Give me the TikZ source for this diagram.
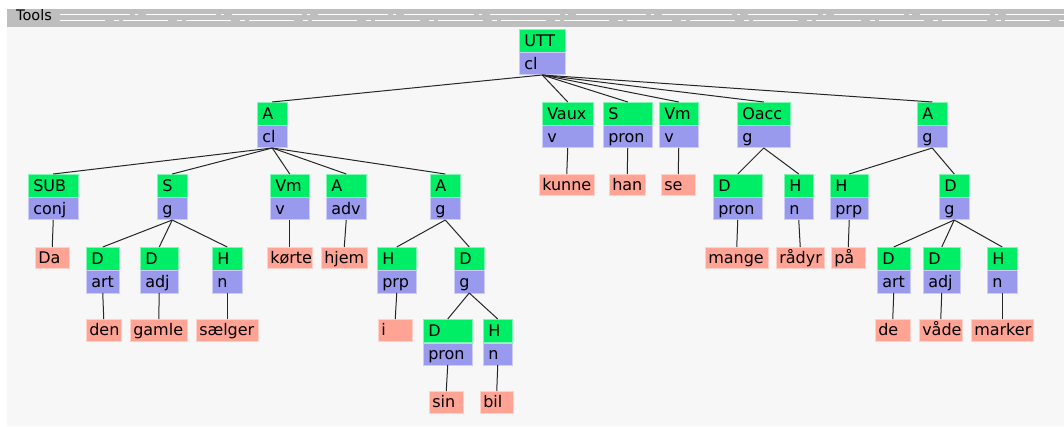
\documentclass[tikz,border=0pt]{standalone}
\usepackage{fontspec}
\setmainfont{DejaVu Sans}
\usetikzlibrary{positioning}
\definecolor{fncol}{RGB}{0,238,102}
\definecolor{catcol}{RGB}{153,153,238}
\definecolor{wdcol}{RGB}{255,163,148}
\definecolor{bgcol}{RGB}{247,247,247}
\definecolor{barcol}{RGB}{190,190,190}

\begin{document}
\begin{tikzpicture}[x=1pt,y=-1pt,
	box/.style={anchor=north west, inner xsep=5pt, inner ysep=0pt, align=left,
		text height=11.7pt, text depth=0pt, line width=0.5pt, font=\fontsize{16}{19}\selectfont},
	fn/.style={box, fill=fncol, draw=fncol!50!white, minimum height=23pt},
	cat/.style={box, fill=catcol, draw=catcol!50!white, minimum height=22pt},
	wd/.style={box, inner xsep=3pt, fill=wdcol, draw=wdcol!50!white, minimum height=21.5pt},
	every edge/.style={draw, line width=1pt, black!85}]
	\useasboundingbox (0,0) rectangle (1064,427);
	\fill[bgcol] (7,27) rectangle (1064,426);
	\fill[barcol] (7,9) rectangle (1064,27);
	\draw[white, line width=0.9pt, dash pattern=on 70pt off 5pt on 3pt off 8pt] (60,14) -- (1064,14);
	\draw[white, line width=0.9pt, dash pattern=on 45pt off 9pt on 5pt off 4pt] (60,20.5) -- (1064,20.5);
	\node[anchor=base west, inner sep=0pt, font=\fontsize{14.5}{16}\selectfont] (tools) at (16,21) {Tools};

	% clause level
	\node[fn, text width=36pt] (utt) at (519,29) {UTT};
	\node[cat, text width=36pt, below=0pt of utt.south west, anchor=north west] (uttc) {cl};

	\node[fn, text width=20pt] (a1) at (257,102) {A};
	\node[cat, text width=20pt, below=0pt of a1.south west, anchor=north west] (a1c) {cl};
	\node[fn, text width=41pt] (vaux) at (542,102) {Vaux};
	\node[cat, text width=41pt, below=0pt of vaux.south west, anchor=north west] (vauxc) {v};
	\node[fn, text width=39pt] (s2) at (603,102) {S};
	\node[cat, text width=39pt, below=0pt of s2.south west, anchor=north west] (s2c) {pron};
	\node[fn, text width=29pt] (vm2) at (659,102) {Vm};
	\node[cat, text width=29pt, below=0pt of vm2.south west, anchor=north west] (vm2c) {v};
	\node[fn, text width=43pt] (oacc) at (737,102) {Oacc};
	\node[cat, text width=43pt, below=0pt of oacc.south west, anchor=north west] (oaccc) {g};
	\node[fn, text width=20pt] (a3) at (917,102) {A};
	\node[cat, text width=20pt, below=0pt of a3.south west, anchor=north west] (a3c) {g};

	% subordinate clause
	\node[fn, text width=40pt] (sub) at (28,174) {SUB};
	\node[cat, text width=40pt, below=0pt of sub.south west, anchor=north west] (subc) {conj};
	\node[fn, text width=20pt] (s1) at (157,174) {S};
	\node[cat, text width=20pt, below=0pt of s1.south west, anchor=north west] (s1c) {g};
	\node[fn, text width=29pt] (vm1) at (270,174) {Vm};
	\node[cat, text width=29pt, below=0pt of vm1.south west, anchor=north west] (vm1c) {v};
	\node[fn, text width=30pt] (aadv) at (326,174) {A};
	\node[cat, text width=30pt, below=0pt of aadv.south west, anchor=north west] (aadvc) {adv};
	\node[fn, text width=20pt] (a2) at (430,174) {A};
	\node[cat, text width=20pt, below=0pt of a2.south west, anchor=north west] (a2c) {g};

	\node[fn, text width=23pt] (d1) at (86,247) {D};
	\node[cat, text width=23pt, below=0pt of d1.south west, anchor=north west] (d1c) {art};
	\node[fn, text width=28pt] (d2) at (140,247) {D};
	\node[cat, text width=28pt, below=0pt of d2.south west, anchor=north west] (d2c) {adj};
	\node[fn, text width=20pt] (h1) at (212,247) {H};
	\node[cat, text width=20pt, below=0pt of h1.south west, anchor=north west] (h1c) {n};
	\node[fn, text width=29pt] (hprp1) at (377,247) {H};
	\node[cat, text width=29pt, below=0pt of hprp1.south west, anchor=north west] (hprp1c) {prp};
	\node[fn, text width=20pt] (dg1) at (454,247) {D};
	\node[cat, text width=20pt, below=0pt of dg1.south west, anchor=north west] (dg1c) {g};
	\node[fn, text width=39pt] (dpron1) at (423,319) {D};
	\node[cat, text width=39pt, below=0pt of dpron1.south west, anchor=north west] (dpron1c) {pron};
	\node[fn, text width=19pt] (hn1) at (483,319) {H};
	\node[cat, text width=19pt, below=0pt of hn1.south west, anchor=north west] (hn1c) {n};

	% object and adverbial
	\node[fn, text width=39pt] (dpron2) at (713,174) {D};
	\node[cat, text width=39pt, below=0pt of dpron2.south west, anchor=north west] (dpron2c) {pron};
	\node[fn, text width=19pt] (hn2) at (784,174) {H};
	\node[cat, text width=19pt, below=0pt of hn2.south west, anchor=north west] (hn2c) {n};
	\node[fn, text width=28pt] (hprp2) at (830,174) {H};
	\node[cat, text width=28pt, below=0pt of hprp2.south west, anchor=north west] (hprp2c) {prp};
	\node[fn, text width=20pt] (dg2) at (939,174) {D};
	\node[cat, text width=20pt, below=0pt of dg2.south west, anchor=north west] (dg2c) {g};
	\node[fn, text width=23pt] (dart2) at (877,247) {D};
	\node[cat, text width=23pt, below=0pt of dart2.south west, anchor=north west] (dart2c) {art};
	\node[fn, text width=27pt] (dadj2) at (923,247) {D};
	\node[cat, text width=27pt, below=0pt of dadj2.south west, anchor=north west] (dadj2c) {adj};
	\node[fn, text width=20pt] (hn3) at (987,247) {H};
	\node[cat, text width=20pt, below=0pt of hn3.south west, anchor=north west] (hn3c) {n};

	% words
	\node[wd, text width=28pt] (da) at (35,247) {Da};
	\node[wd, text width=29pt] (den) at (86,319) {den};
	\node[wd, text width=51pt] (gamle) at (130,319) {gamle};
	\node[wd, text width=56pt] (saelger) at (196,319) {sælger};
	\node[wd, text width=39pt] (korte) at (267,247) {kørte};
	\node[wd, text width=40pt] (hjem) at (321,247) {hjem};
	\node[wd, text width=28pt] (i) at (378,319) {i};
	\node[wd, text width=28pt] (sin) at (429,391) {sin};
	\node[wd, text width=27pt] (bil) at (480,391) {bil};
	\node[wd, text width=49pt] (kunne) at (539,174) {kunne};
	\node[wd, text width=30pt] (han) at (609,174) {han};
	\node[wd, text width=28pt] (se) at (661,174) {se};
	\node[wd, text width=57pt] (mange) at (705,247) {mange};
	\node[wd, text width=42pt] (radyr) at (776,247) {rådyr};
	\node[wd, text width=28pt] (paa) at (831,247) {på};
	\node[wd, text width=29pt] (de) at (875,319) {de};
	\node[wd, text width=37pt] (vaade) at (919,319) {våde};
	\node[wd, text width=56pt] (marker) at (971,319) {marker};

	\path[-] (uttc.south) edge (a1.north);
	\path[-] (uttc.south) edge (vaux.north);
	\path[-] (uttc.south) edge (s2.north);
	\path[-] (uttc.south) edge (vm2.north);
	\path[-] (uttc.south) edge (oacc.north);
	\path[-] (uttc.south) edge (a3.north);
	\path[-] (a1c.south) edge (sub.north);
	\path[-] (a1c.south) edge (s1.north);
	\path[-] (a1c.south) edge (vm1.north);
	\path[-] (a1c.south) edge (aadv.north);
	\path[-] (a1c.south) edge (a2.north);
	\path[-] (subc.south) edge (da.north);
	\path[-] (s1c.south) edge (d1.north);
	\path[-] (s1c.south) edge (d2.north);
	\path[-] (s1c.south) edge (h1.north);
	\path[-] (d1c.south) edge (den.north);
	\path[-] (d2c.south) edge (gamle.north);
	\path[-] (h1c.south) edge (saelger.north);
	\path[-] (vm1c.south) edge (korte.north);
	\path[-] (aadvc.south) edge (hjem.north);
	\path[-] (a2c.south) edge (hprp1.north);
	\path[-] (a2c.south) edge (dg1.north);
	\path[-] (hprp1c.south) edge (i.north);
	\path[-] (dg1c.south) edge (dpron1.north);
	\path[-] (dg1c.south) edge (hn1.north);
	\path[-] (dpron1c.south) edge (sin.north);
	\path[-] (hn1c.south) edge (bil.north);
	\path[-] (vauxc.south) edge (kunne.north);
	\path[-] (s2c.south) edge (han.north);
	\path[-] (vm2c.south) edge (se.north);
	\path[-] (oaccc.south) edge (dpron2.north);
	\path[-] (oaccc.south) edge (hn2.north);
	\path[-] (a3c.south) edge (hprp2.north);
	\path[-] (a3c.south) edge (dg2.north);
	\path[-] (dpron2c.south) edge (mange.north);
	\path[-] (hn2c.south) edge (radyr.north);
	\path[-] (hprp2c.south) edge (paa.north);
	\path[-] (dg2c.south) edge (dart2.north);
	\path[-] (dg2c.south) edge (dadj2.north);
	\path[-] (dg2c.south) edge (hn3.north);
	\path[-] (dart2c.south) edge (de.north);
	\path[-] (dadj2c.south) edge (vaade.north);
	\path[-] (hn3c.south) edge (marker.north);
\end{tikzpicture}
\end{document}
